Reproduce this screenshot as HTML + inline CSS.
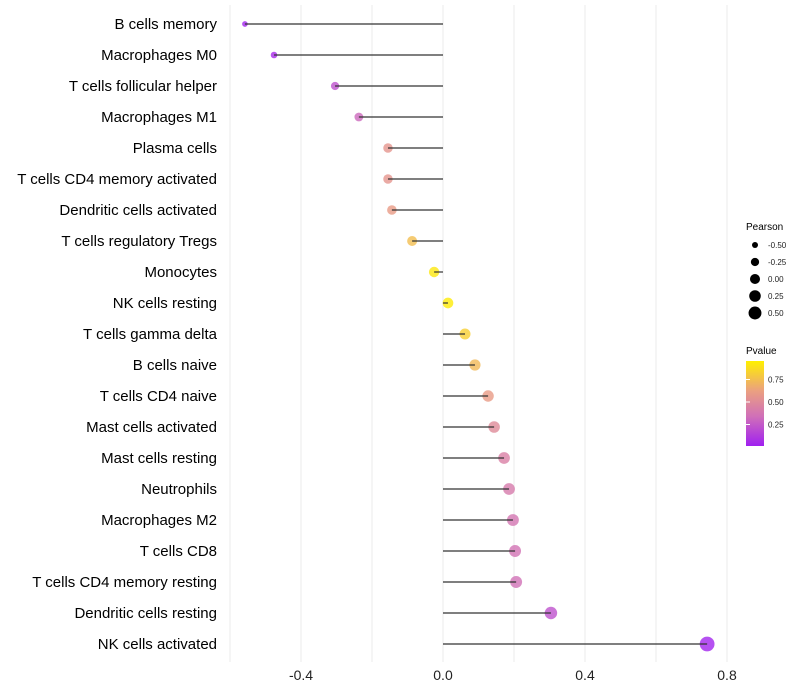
<!DOCTYPE html>
<html><head><meta charset="utf-8"><style>
body{margin:0;background:#fff;font-family:"Liberation Sans",sans-serif;}
svg{display:block}
</style></head><body>
<svg id="chart" width="800" height="700">
<defs><linearGradient id="pg" x1="0" y1="1" x2="0" y2="0">
<stop offset="0" stop-color="#A020F0"/><stop offset="0.35" stop-color="#D070B8"/><stop offset="0.65" stop-color="#EBA080"/><stop offset="1" stop-color="#FFF000"/></linearGradient></defs>
<g id="grid"></g><g id="dots"></g><g id="stems"></g><g id="ylabels"></g><g id="xlabels"></g>
<g>
<text x="746" y="230" font-size="10">Pearson</text>
<g id="sizeleg"></g>
<text x="746" y="354" font-size="10">Pvalue</text>
<rect x="746" y="361" width="18" height="85" fill="url(#pg)"/>
<g id="colleg"></g>
</g>
</svg>
<script>
const categories=["B cells memory","Macrophages M0","T cells follicular helper","Macrophages M1","Plasma cells","T cells CD4 memory activated","Dendritic cells activated","T cells regulatory  Tregs ","Monocytes","NK cells resting","T cells gamma delta","B cells naive","T cells CD4 naive","Mast cells activated","Mast cells resting","Neutrophils","Macrophages M2","T cells CD8","T cells CD4 memory resting","Dendritic cells resting","NK cells activated"];
const pearson=[-0.558,-0.476,-0.304,-0.237,-0.155,-0.155,-0.144,-0.087,-0.025,0.014,0.062,0.090,0.127,0.144,0.172,0.186,0.197,0.203,0.206,0.304,0.744];
const pvalue=[0.02,0.05,0.22,0.32,0.58,0.58,0.62,0.78,0.96,0.98,0.86,0.76,0.62,0.52,0.45,0.42,0.38,0.37,0.36,0.22,0.02];
const xTicks=[-0.4,0,0.4,0.8];
const xGrid=[-0.6,-0.4,-0.2,0,0.2,0.4,0.6,0.8];
const sizeLeg=[-0.5,-0.25,0,0.25,0.5];
const colLeg=[0.25,0.5,0.75];
const NS="http://www.w3.org/2000/svg";
const x=v=>443+v*355;
const y=i=>24+i*31;
const r=v=>Math.sqrt(Math.max(4,28+36*v));
const stops=[[0,[160,32,240]],[0.35,[208,112,184]],[0.65,[235,160,128]],[1,[255,240,0]]];
function col(p){for(let k=1;k<stops.length;k++){if(p<=stops[k][0]){const a=stops[k-1],b=stops[k],t=(p-a[0])/(b[0]-a[0]);return "rgb("+a[1].map((c,j)=>Math.round(c+(b[1][j]-c)*t)).join(",")+")";}}return "rgb(255,240,0)";}
function mk(t,at,parent){const e=document.createElementNS(NS,t);for(const k in at)e.setAttribute(k,at[k]);document.getElementById(parent).appendChild(e);return e;}
xGrid.forEach(v=>{const l=mk("line",{x1:x(v),x2:x(v),y1:5,y2:662,stroke:"#ebebeb","stroke-width":1},"grid");

});
xTicks.forEach(v=>{const t=mk("text",{x:x(v),y:680,"font-size":14,"text-anchor":"middle",fill:"#222"},"xlabels");t.textContent=v===0?"0.0":v.toFixed(1);

});
categories.forEach((c,i)=>{
const t=mk("text",{x:217,y:y(i)+5,"font-size":15,"text-anchor":"end",fill:"#000","xml:space":"preserve"},"ylabels");t.textContent=c;


const d=mk("circle",{cx:x(pearson[i]),cy:y(i),r:r(pearson[i]),fill:col(pvalue[i]),"fill-opacity":0.8},"dots");


const s=mk("line",{x1:x(0),x2:x(pearson[i]),y1:y(i),y2:y(i),stroke:"#333","stroke-width":1.2},"stems");


});
sizeLeg.forEach((v,i)=>{const cy=245+i*17;
const d=mk("circle",{cx:755,cy:cy,r:r(v)*0.95,fill:"#000"},"sizeleg");


const t=mk("text",{x:768,y:cy+3,"font-size":8,fill:"#222"},"sizeleg");t.textContent=v.toFixed(2);

});
colLeg.forEach(v=>{const cy=447-v*90;
const t=mk("text",{x:768,y:cy+3,"font-size":8,fill:"#222"},"colleg");t.textContent=v.toFixed(2);


const l=mk("line",{x1:746,x2:750,y1:cy,y2:cy,stroke:"#fff"},"colleg");

});
</script>
</body></html>
